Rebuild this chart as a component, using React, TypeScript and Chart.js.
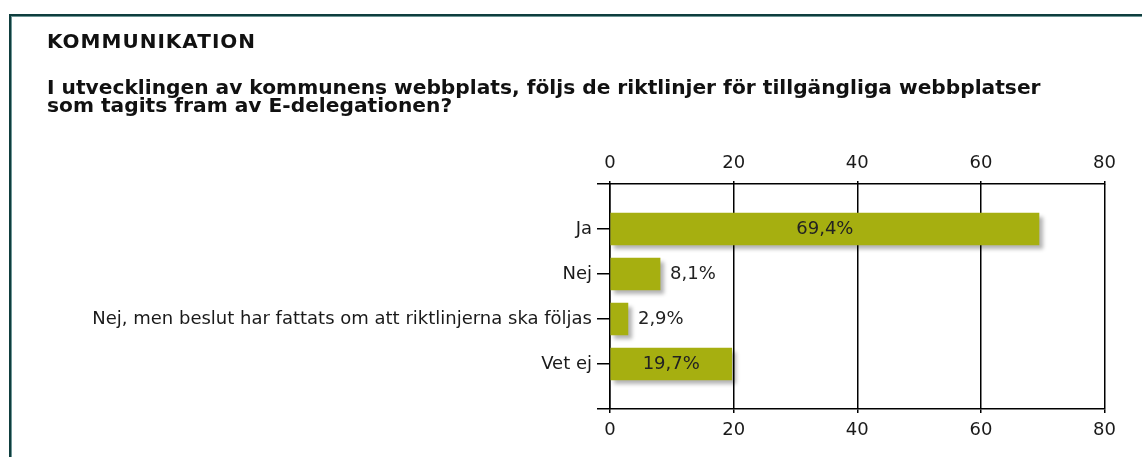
import React, { useEffect, useRef } from "react";
import { Chart, registerables } from "chart.js";

Chart.register(...registerables);

const sectionTitle = "KOMMUNIKATION";
const questionLines = [
  "I utvecklingen av kommunens webbplats, följs de riktlinjer för tillgängliga webbplatser",
  "som tagits fram av E-delegationen?",
];
// empty first/last slots reproduce the spacing of the original axis
const categories = ["", "Ja", "Nej", "Nej, men beslut har fattats om att riktlinjerna ska följas", "Vet ej", ""];
const values: (number | null)[] = [null, 69.4, 8.1, 2.9, 19.7, null];
const xTicks = [0, 20, 40, 60, 80];

const BAR = "#a6af10";
const FONT = "'DejaVu Sans', Verdana, sans-serif";

const shadowPlugin = {
  id: "barShadow",
  beforeDatasetsDraw(chart: any) {
    const ctx = chart.ctx;
    ctx.save();
    ctx.shadowColor = "rgba(0,0,0,0.3)";
    ctx.shadowOffsetX = 4;
    ctx.shadowOffsetY = 4;
    ctx.shadowBlur = 4;
  },
  afterDatasetsDraw(chart: any) {
    chart.ctx.restore();
  },
};

const valueLabelPlugin = {
  id: "valueLabels",
  afterDatasetsDraw(chart: any) {
    const ctx = chart.ctx;
    const meta = chart.getDatasetMeta(0);
    ctx.save();
    ctx.font = `18px ${FONT}`;
    ctx.fillStyle = "#222";
    ctx.textBaseline = "middle";
    meta.data.forEach((bar: any, i: number) => {
      const v = values[i];
      if (v == null) return;
      const text = v.toFixed(1).replace(".", ",") + "%";
      const w = ctx.measureText(text).width;
      const left = Math.min(bar.base, bar.x);
      const right = Math.max(bar.base, bar.x);
      if (right - left > w + 12) {
        ctx.textAlign = "center";
        ctx.fillText(text, (left + right) / 2, bar.y);
      } else {
        ctx.textAlign = "left";
        ctx.fillText(text, right + 10, bar.y);
      }
    });
    ctx.restore();
  },
};

export default function App() {
  const ref = useRef<HTMLCanvasElement | null>(null);

  useEffect(() => {
    document.body.style.margin = "0";
    if (!ref.current) return;
    const tickFont = { family: FONT, size: 18 };
    const chart = new Chart(ref.current, {
      type: "bar",
      data: {
        labels: categories,
        datasets: [
          {
            data: values as any,
            backgroundColor: BAR,
            borderWidth: 0,
            barThickness: 32,
            xAxisID: "x",
            yAxisID: "y",
          },
        ],
      },
      options: {
        indexAxis: "y",
        responsive: false,
        animation: false,
        devicePixelRatio: 1,
        layout: { padding: { left: 0, right: 37.5, top: 0, bottom: 0 } },
        plugins: { legend: { display: false }, tooltip: { enabled: false } },
        scales: {
          x: {
            type: "linear",
            position: "bottom",
            min: 0,
            max: 80,
            afterBuildTicks: (s: any) => {
              s.ticks = xTicks.map((v) => ({ value: v }));
            },
            afterFit: (s: any) => {
              s.height = 48;
            },
            ticks: { font: tickFont, color: "#1a1a1a", padding: 7 },
            grid: { color: "#000", lineWidth: 1.5, tickLength: 4, drawTicks: true },
            border: { display: true, color: "#000", width: 1.5 },
          },
          x2: {
            type: "linear",
            position: "top",
            min: 0,
            max: 80,
            afterBuildTicks: (s: any) => {
              s.ticks = xTicks.map((v) => ({ value: v }));
            },
            afterFit: (s: any) => {
              s.height = 184;
            },
            ticks: { font: tickFont, color: "#1a1a1a", padding: 7 },
            grid: { color: "#000", lineWidth: 1.5, tickLength: 3, drawOnChartArea: false },
            border: { display: true, color: "#000", width: 1.5 },
          },
          y: {
            type: "category",
            offset: false,
            afterFit: (s: any) => {
              s.width = 610;
            },
            ticks: { font: tickFont, color: "#1a1a1a", padding: 5, autoSkip: false },
            grid: { color: "#000", lineWidth: 1.5, tickLength: 13, drawOnChartArea: false, offset: false },
            border: { display: true, color: "#000", width: 1.5 },
          },
        },
      },
      plugins: [shadowPlugin, valueLabelPlugin],
    } as any);
    return () => chart.destroy();
  }, []);

  return (
    <div
      style={{
        position: "fixed",
        left: 0,
        top: 0,
        width: 1142,
        height: 457,
        overflow: "hidden",
        background: "#fff",
      }}
    >
      <div
        style={{
          position: "absolute",
          left: 9,
          top: 14,
          width: 1300,
          height: 600,
          borderTop: "2px solid #0f3e3e",
          borderLeft: "2px solid #0f3e3e",
          boxShadow: "inset 1px 1px 0 #6e9696",
        }}
      />
      <canvas
        ref={ref}
        width={1142}
        height={457}
        style={{ position: "absolute", left: 0, top: 0, width: 1142, height: 457 }}
      />
      <div
        style={{
          position: "absolute",
          left: 47,
          top: 31,
          font: `bold 20px/20px ${FONT}`,
          letterSpacing: "1px",
          color: "#111",
          whiteSpace: "nowrap",
        }}
      >
        {sectionTitle}
      </div>
      <div
        style={{
          position: "absolute",
          left: 47,
          top: 78,
          font: `bold 20.2px/18px ${FONT}`,
          color: "#111",
          whiteSpace: "nowrap",
        }}
      >
        {questionLines.map((l, i) => (
          <div key={i}>{l}</div>
        ))}
      </div>
    </div>
  );
}
